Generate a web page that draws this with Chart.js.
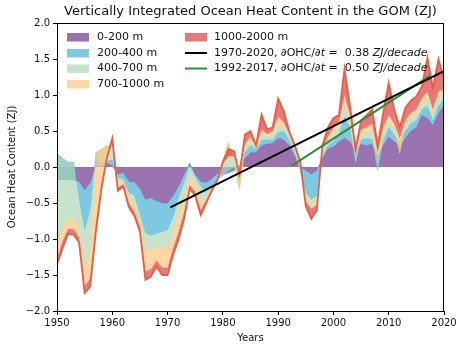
<!DOCTYPE html>
<html lang="en">

<head>
    <meta charset="UTF-8">
    <title>Ocean Heat Content GOM</title>
    <script src="https://cdn.jsdelivr.net/npm/chart.js"></script>
    <style>
        body { margin: 0; background: #fff; }
    </style>
</head>

<body>
    <canvas id="graficoOHC" width="474" height="354"></canvas>
</body>

</html>
<script>
    // years of the annual series
    const years = [
        1950, 1951, 1952, 1953, 1954, 1955, 1956, 1957, 1958, 1959,
        1960, 1961, 1962, 1963, 1964, 1965, 1966, 1967, 1968, 1969,
        1970, 1971, 1972, 1973, 1974, 1975, 1976, 1977, 1978, 1979,
        1980, 1981, 1982, 1983, 1984, 1985, 1986, 1987, 1988, 1989,
        1990, 1991, 1992, 1993, 1994, 1995, 1996, 1997, 1998, 1999,
        2000, 2001, 2002, 2003, 2004, 2005, 2006, 2007, 2008, 2009,
        2010, 2011, 2012, 2013, 2014, 2015, 2016, 2017, 2018, 2019, 2020
    ]

    // stacked edges (ZJ): 0-200, 0-400, 0-700, 0-1000, 0-2000 m
    const top200 = [
        -0.18, -0.17, -0.18, -0.18, -0.2, -0.32, -0.22, 0.02, 0.0, 0.05,
        0.02, -0.1, -0.08, -0.2, -0.21, -0.3, -0.45, -0.43, -0.47, -0.5,
        -0.5, -0.4, -0.27, -0.1, 0.05, -0.1, -0.2, -0.22, -0.16, -0.09,
        -0.1, -0.08, -0.05, 0.0, 0.12, 0.2, 0.2, 0.3, 0.32, 0.33,
        0.4, 0.38, 0.3, 0.15, 0.0, -0.05, -0.1, -0.05, 0.12, 0.25,
        0.28, 0.35, 0.4, 0.35, 0.22, 0.32, 0.3, 0.32, 0.15, 0.3,
        0.42, 0.35, 0.3, 0.4, 0.5, 0.55, 0.72, 0.68, 0.58, 0.75, 0.85
    ]
    const top400 = [
        0.19, 0.12, 0.07, 0.07, -0.45, -0.87, -0.6, 0.15, 0.05, 0.08,
        0.1, -0.15, -0.17, -0.35, -0.4, -0.65, -0.92, -0.95, -0.92, -0.9,
        -0.88, -0.7, -0.42, -0.22, 0.02, -0.14, -0.27, -0.34, -0.27, -0.17,
        -0.12, -0.05, 0.0, 0.02, 0.2, 0.3, 0.25, 0.37, 0.38, 0.38,
        0.48, 0.5, 0.38, 0.2, -0.05, -0.35, -0.45, -0.4, 0.15, 0.3,
        0.35, 0.45, 0.7, 0.55, 0.05, 0.38, 0.4, 0.38, -0.05, 0.36,
        0.55, 0.45, 0.35, 0.5, 0.6, 0.65, 0.8, 0.85, 0.65, 0.85, 0.95
    ]
    const top700 = [
        -1.08, -0.85, -0.72, -0.72, -0.82, -1.35, -1.2, 0.2, 0.25, 0.3,
        0.3, -0.22, -0.2, -0.42, -0.52, -0.75, -1.17, -1.15, -1.1, -1.12,
        -1.12, -0.9, -0.65, -0.4, -0.12, -0.25, -0.48, -0.42, -0.3, -0.15,
        0.1, 0.35, 0.05, -0.32, 0.25, 0.36, 0.27, 0.45, 0.42, 0.44,
        0.58, 0.55, 0.42, 0.24, -0.02, -0.42, -0.52, -0.47, 0.2, 0.36,
        0.45, 0.55, 0.85, 0.65, 0.12, 0.45, 0.46, 0.5, 0.1, 0.45,
        0.62, 0.52, 0.19, 0.57, 0.68, 0.72, 0.88, 0.95, 0.72, 0.95, 1.0
    ]
    const top1000 = [
        -1.27, -1.03, -0.86, -0.86, -0.98, -1.66, -1.55, -0.8, -0.25, 0.1,
        0.35, -0.28, -0.24, -0.5, -0.62, -0.83, -1.45, -1.42, -1.3, -1.4,
        -1.4, -1.13, -0.9, -0.62, -0.25, -0.34, -0.6, -0.46, -0.31, -0.16,
        0.05, 0.15, 0.15, -0.05, 0.32, 0.42, 0.28, 0.52, 0.46, 0.49,
        0.7, 0.62, 0.46, 0.27, 0.02, -0.48, -0.58, -0.53, 0.25, 0.42,
        0.55, 0.62, 1.0, 0.72, 0.2, 0.52, 0.55, 0.6, 0.2, 0.55,
        0.72, 0.6, 0.4, 0.65, 0.75, 0.8, 0.95, 1.05, 0.8, 1.05, 1.08
    ]
    const top2000 = [
        -1.35, -1.13, -0.93, -0.94, -1.05, -1.75, -1.66, -0.92, -0.32, 0.12,
        0.4, -0.33, -0.27, -0.56, -0.68, -0.9, -1.57, -1.52, -1.38, -1.5,
        -1.5, -1.22, -1.0, -0.72, -0.3, -0.4, -0.67, -0.5, -0.33, -0.18,
        0.07, 0.25, 0.22, -0.1, 0.45, 0.5, 0.3, 0.73, 0.52, 0.55,
        0.95, 0.78, 0.5, 0.3, 0.08, -0.55, -0.72, -0.6, 0.3, 0.55,
        0.68, 0.72, 1.36, 0.85, 0.25, 0.65, 0.72, 0.8, 0.3, 0.75,
        1.17, 0.8, 0.55, 0.82, 0.92, 0.98, 1.12, 1.52, 1.1, 1.5, 1.22
    ]

    // linear trends
    const trendLongYears = [1970.5, 2020]
    const trendLongValues = [-0.56, 1.33]
    const trendShortYears = [1992.5, 2017.5]
    const trendShortValues = [0.02, 1.27]

    const xTicks = [1950, 1960, 1970, 1980, 1990, 2000, 2010, 2020]
    const yTicks = [-2.0, -1.5, -1.0, -0.5, 0.0, 0.5, 1.0, 1.5, 2.0]

    const layerNames = ['0-200 m', '200-400 m', '400-700 m', '700-1000 m', '1000-2000 m']
    const layerFill = [
        'rgba(112, 54, 142, 0.7)',
        'rgba(72, 177, 215, 0.7)',
        'rgba(176, 215, 182, 0.7)',
        'rgba(251, 196, 125, 0.7)',
        'rgba(222, 62, 65, 0.7)'
    ]
    const layerLegend = ['#9b72b0', '#7ec8e3', '#c8e3cc', '#fcd6a4', '#e8787a']

    function pares(xs, ys) {
        let out = []
        for (let i = 0; i < xs.length; i++) out.push({ x: xs[i], y: ys[i] })
        return out
    }

    const font = 'DejaVu Sans'

    const extras = {
        id: 'extras',
        afterDraw(chart) {
            const ctx = chart.ctx
            const a = chart.chartArea
            ctx.save()

            // frame
            ctx.strokeStyle = '#000'
            ctx.lineWidth = 1
            ctx.strokeRect(Math.round(a.left) + 0.5, Math.round(a.top) + 0.5,
                Math.round(a.right - a.left) - 1, Math.round(a.bottom - a.top))

            ctx.fillStyle = '#111'
            ctx.textBaseline = 'middle'

            // title
            ctx.font = '13px "' + font + '"'
            ctx.textAlign = 'center'
            ctx.fillText('Vertically Integrated Ocean Heat Content in the GOM (ZJ)', (a.left + a.right) / 2, 12)

            // axis titles
            ctx.font = '10px "' + font + '"'
            ctx.fillText('Years', (a.left + a.right) / 2, 338)
            ctx.save()
            ctx.translate(12, (a.top + a.bottom) / 2)
            ctx.rotate(-Math.PI / 2)
            ctx.fillText('Ocean Heat Content (ZJ)', 0, 0)
            ctx.restore()

            // legend
            ctx.textAlign = 'left'
            ctx.font = '11px "' + font + '"'
            const rows = [37, 53, 68.5, 84]
            for (let i = 0; i < 4; i++) {
                ctx.fillStyle = layerLegend[i]
                ctx.fillRect(67, rows[i] - 4, 22, 8.5)
                ctx.fillStyle = '#111'
                ctx.fillText(layerNames[i], 97, rows[i])
            }
            ctx.fillStyle = layerLegend[4]
            ctx.fillRect(185, rows[0] - 4, 22, 8.5)
            ctx.fillStyle = '#111'
            ctx.fillText(layerNames[4], 214, rows[0])

            const linhas = [
                { cor: '#000', label: '1970-2020, ', rate: '0.38' },
                { cor: '#2f8a3c', label: '1992-2017, ', rate: '0.50' }
            ]
            for (let i = 0; i < 2; i++) {
                const y = rows[i + 1]
                ctx.strokeStyle = linhas[i].cor
                ctx.lineWidth = 2
                ctx.beginPath()
                ctx.moveTo(185, y)
                ctx.lineTo(207, y)
                ctx.stroke()

                let x = 214
                const partes = [
                    [linhas[i].label + '\u2202OHC/\u2202', false],
                    ['t', true],
                    [' =  ' + linhas[i].rate + ' ', false],
                    ['ZJ/decade', true]
                ]
                for (const p of partes) {
                    ctx.font = (p[1] ? 'italic ' : '') + '11px "' + font + '"'
                    ctx.fillText(p[0], x, y)
                    x += ctx.measureText(p[0]).width
                }
            }
            ctx.restore()
        }
    }

    const tops = [top200, top400, top700, top1000, top2000]
    let datasets = []

    datasets.push({
        data: pares(trendLongYears, trendLongValues),
        borderColor: '#000',
        borderWidth: 2,
        pointRadius: 0,
        fill: false,
        order: -2
    })
    datasets.push({
        data: pares(trendShortYears, trendShortValues),
        borderColor: '#2f8a3c',
        borderWidth: 2,
        pointRadius: 0,
        fill: false,
        order: -1
    })
    for (let i = 0; i < tops.length; i++) {
        datasets.push({
            label: layerNames[i],
            data: pares(years, tops[i]),
            borderColor: i == 4 ? 'rgba(230, 92, 62, 0.95)' : layerFill[i],
            borderWidth: i == 4 ? 1.8 : 0.6,
            backgroundColor: layerFill[i],
            pointRadius: 0,
            tension: 0,
            fill: i == 0 ? 'origin' : '-1',
            order: 5 - i
        })
    }

    new Chart(document.getElementById('graficoOHC'), {
        type: 'line',
        data: { datasets: datasets },
        plugins: [extras],
        options: {
            responsive: false,
            animation: false,
            layout: { padding: { top: 23, right: 30, left: 0, bottom: 0 } },
            plugins: {
                legend: { display: false },
                tooltip: { enabled: false }
            },
            scales: {
                x: {
                    type: 'linear',
                    min: 1950,
                    max: 2020,
                    afterBuildTicks: function (scale) { scale.ticks = xTicks.map(v => ({ value: v })) },
                    afterFit: function (scale) { scale.height = 43 },
                    grid: { drawOnChartArea: false, color: '#000', tickLength: 4 },
                    border: { display: true, color: '#000' },
                    ticks: {
                        color: '#111',
                        padding: 2,
                        maxRotation: 0,
                        font: { family: font, size: 10 },
                        callback: v => String(v)
                    }
                },
                y: {
                    min: -2,
                    max: 2,
                    afterBuildTicks: function (scale) { scale.ticks = yTicks.map(v => ({ value: v })) },
                    afterFit: function (scale) { scale.width = 57 },
                    grid: { drawOnChartArea: false, color: '#000', tickLength: 4 },
                    border: { display: true, color: '#000' },
                    ticks: {
                        color: '#111',
                        padding: 3,
                        font: { family: font, size: 10 },
                        callback: v => v.toFixed(1).replace('-', '\u2212')
                    }
                }
            }
        }
    });
</script>
